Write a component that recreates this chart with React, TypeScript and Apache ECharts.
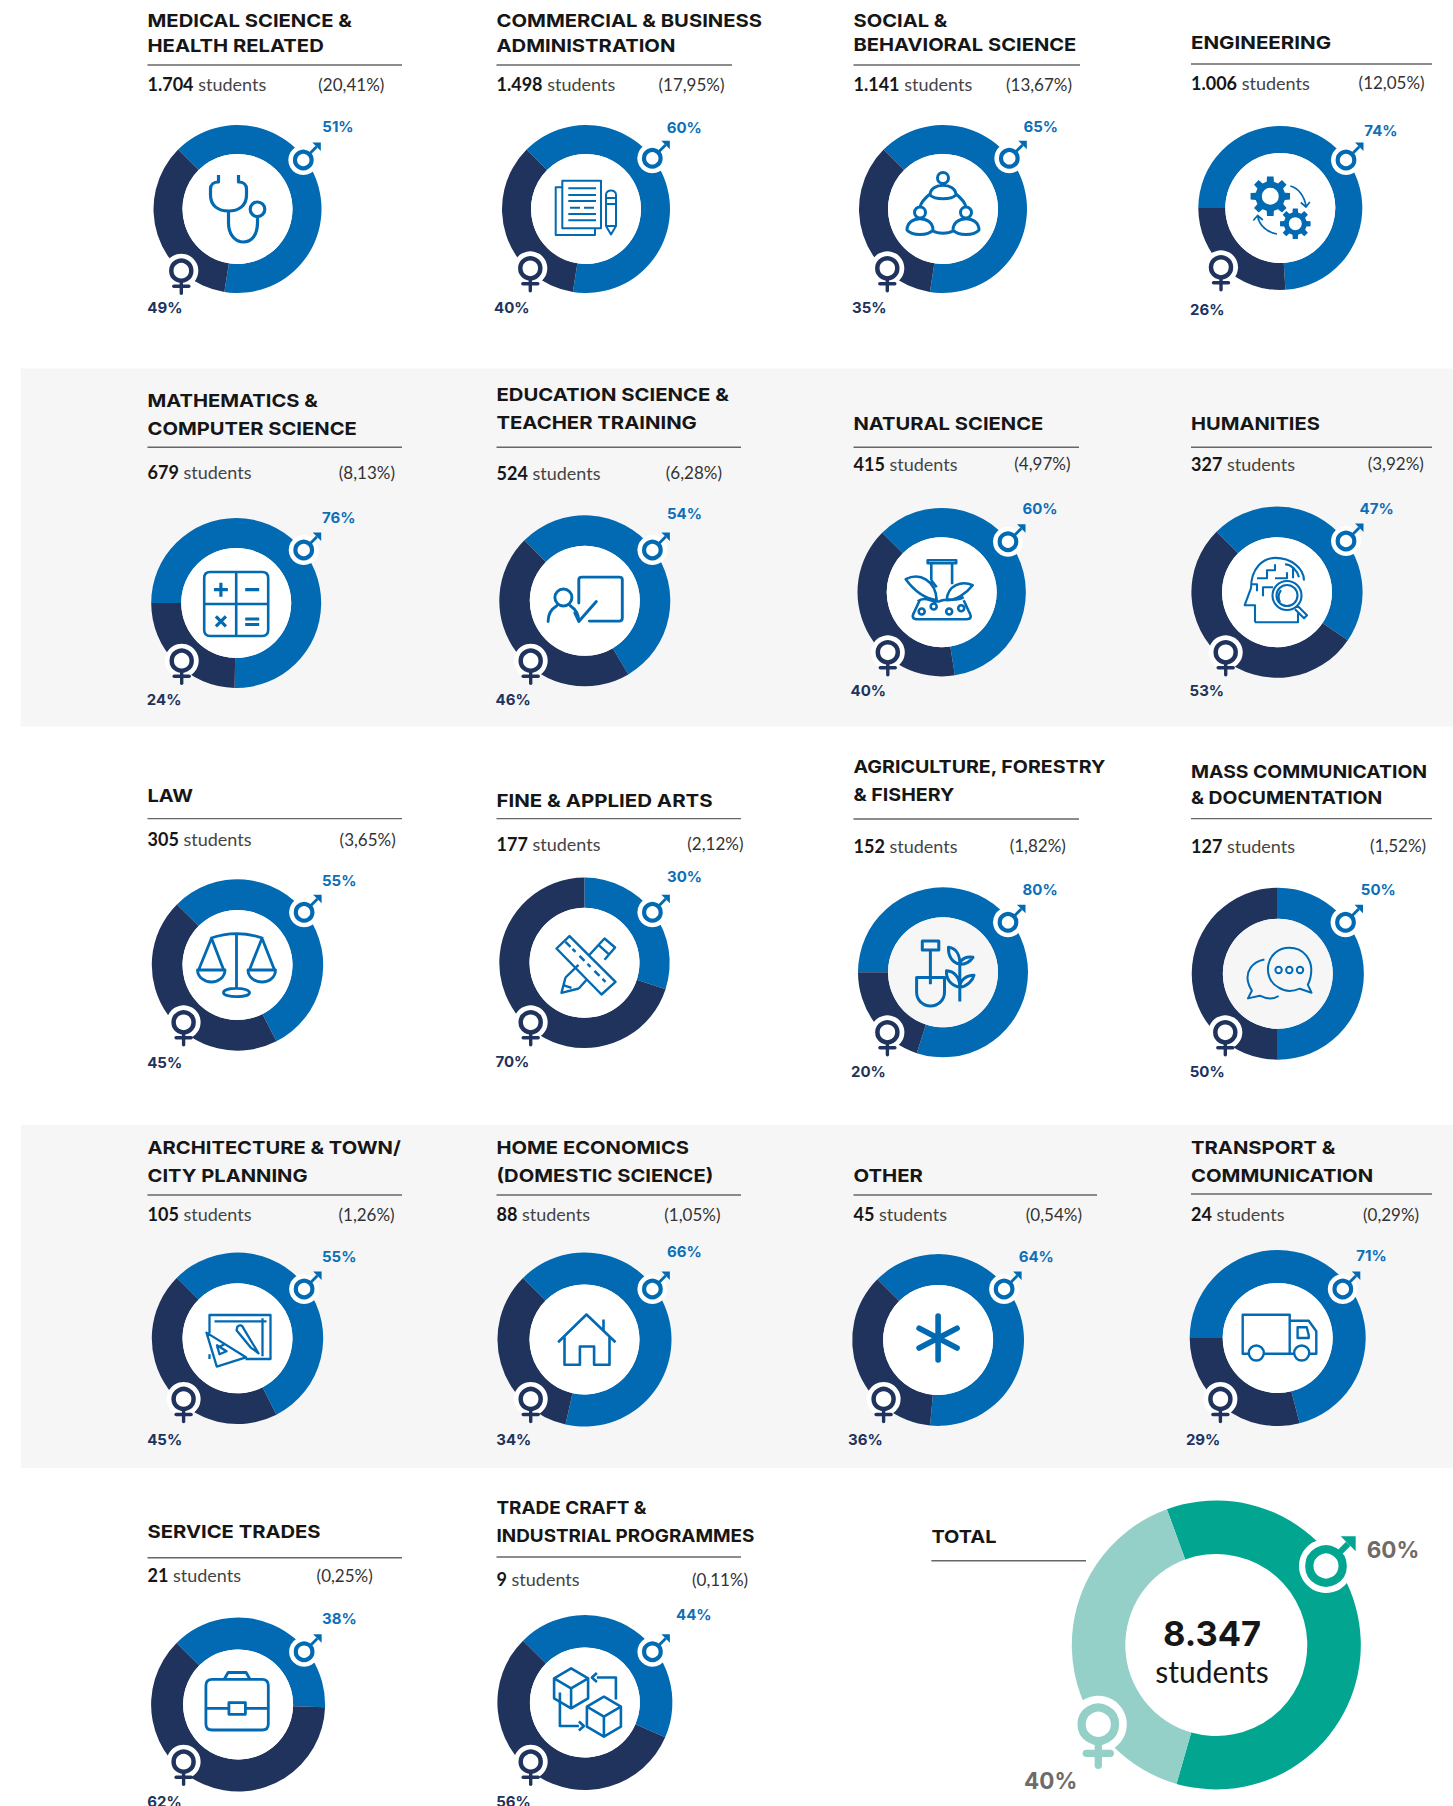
import React, { useEffect, useRef } from "react";
import * as echarts from "echarts";

const fieldTitles: string[][] = [
  ["MEDICAL SCIENCE &", "HEALTH RELATED"],
  ["COMMERCIAL & BUSINESS", "ADMINISTRATION"],
  ["SOCIAL &", "BEHAVIORAL SCIENCE"],
  ["ENGINEERING"],
  ["MATHEMATICS &", "COMPUTER SCIENCE"],
  ["EDUCATION SCIENCE &", "TEACHER TRAINING"],
  ["NATURAL SCIENCE"],
  ["HUMANITIES"],
  ["LAW"],
  ["FINE & APPLIED ARTS"],
  ["AGRICULTURE, FORESTRY", "& FISHERY"],
  ["MASS COMMUNICATION", "& DOCUMENTATION"],
  ["ARCHITECTURE & TOWN/", "CITY PLANNING"],
  ["HOME ECONOMICS", "(DOMESTIC SCIENCE)"],
  ["OTHER"],
  ["TRANSPORT &", "COMMUNICATION"],
  ["SERVICE TRADES"],
  ["TRADE CRAFT &", "INDUSTRIAL PROGRAMMES"],
];
const studentCounts = ["1.704","1.498","1.141","1.006","679","524","415","327","305","177","152","127","105","88","45","24","21","9"];
const shareLabels = ["(20,41%)","(17,95%)","(13,67%)","(12,05%)","(8,13%)","(6,28%)","(4,97%)","(3,92%)","(3,65%)","(2,12%)","(1,82%)","(1,52%)","(1,26%)","(1,05%)","(0,54%)","(0,29%)","(0,25%)","(0,11%)"];
const maleLabels = [51,60,65,74,76,54,60,47,55,30,80,50,55,66,64,71,38,44];
const femaleLabels = [49,40,35,26,24,46,40,53,45,70,20,50,45,34,36,29,62,56];
// Ring arcs as drawn in the picture (share of the ring, %), and where each ring begins (compass degrees).
const ringMale = [65,65,65,74,75.3,54,60,47,55,30,80,50,55,66,64,71,38,44];
const ringFemale = [35,35,35,26,24.7,46,40,53,45,70,20,50,45,34,36,29,62,56];
const ringStart = [315,315,315,270,270,315,315,315,315,0,270,0,315,315,315,270,315,315];
const totalStudents = "8.347";
const totalRing = [60, 40];
const totalStart = 340;

// layout: [cx, cy, R, maleX, maleY, femaleX, femaleY, maleLabelX, maleLabelY, femaleLabelX, femaleLabelY]
const ringLayout: number[][] = [
  [237.5,209,84,303.3,160,181.3,270.7,322.3,126.2,147.3,307.5],
  [586,209,84,652.3,158.3,530.3,268.3,666.7,127.8,494,307.5],
  [943,209,84,1009.3,158.3,887.3,268.3,1023.5,126.1,852,307.5],
  [1280.3,208,82,1346,160,1221,267.3,1364.3,130.2,1190,309],
  [236.2,603,85,303.7,550,181.7,660.7,322,517.8,146.8,699.7],
  [584.8,600.8,85.5,652.4,550,530.7,660.7,667,513.8,495.5,699.7],
  [941.7,592.2,84.2,1008,541.7,887.8,652.3,1022.5,508.5,850.5,690.5],
  [1277,592.2,85.6,1346,541,1225.7,652.3,1359.6,508.5,1189.6,690.5],
  [237.5,965,85.7,304.1,912.3,183.6,1022.3,322,880.2,147.2,1062],
  [584.5,962.8,85.2,652.4,912.3,530.7,1022.3,667,876.2,495.5,1061.5],
  [943,972.3,85,1008,922.3,887.4,1032.3,1022.5,889.5,851,1071.5],
  [1277.8,973.7,86,1345.5,922.3,1225.3,1032.3,1360.8,889.5,1189.7,1071.5],
  [237.5,1338.3,85.7,304.1,1289,183.6,1399,322,1256.8,147.2,1439.2],
  [584.5,1339.5,87,652.4,1289,530.7,1399,667,1251.8,496.2,1439.2],
  [938.1,1340,85.9,1004.1,1289,883.6,1399,1018.7,1256.2,848,1439.2],
  [1277.7,1338,88,1342.8,1289,1220.4,1399,1356.2,1255.5,1185.9,1439.2],
  [238.1,1704.5,87,304.1,1651.7,183.6,1761.7,322,1618.8,147.2,1801],
  [584.9,1702.5,87.5,652.4,1651.7,530.7,1761.7,676,1614,496.2,1801],
];
// header layout: [x, ruleEnd, ruleY, rowY, shareX, title line ys...]
const headLayout: number[][] = [
  [147.5,402,65,84,318.3,20.7,45],
  [496.5,732,65,84,658.5,20.7,45],
  [853.5,1080,65,84,1006,20.7,45],
  [1191,1432,64,82.5,1358.6,42.6],
  [147.5,402,447.3,472,338.8,400,428.3],
  [496.5,741,447.3,472.5,665.8,394,422.3],
  [853.5,1079,447.3,463.5,1014.3,423.7],
  [1191,1432,447.3,463.5,1367.7,423.7],
  [147.5,402,818.6,839,339.6,795.5],
  [496.5,741,818.6,843.5,687.3,800],
  [853.5,1079,819,845.5,1009.7,766.8,794.4],
  [1191,1432,818.6,845.5,1370,771.4,797.8],
  [147.5,402,1195,1214.3,338.5,1147.8,1175.5],
  [496.5,741,1195,1214.3,664.3,1147.8,1175.5],
  [853.5,1097,1195,1214.3,1025.8,1175.5],
  [1191,1432,1194,1214.3,1363,1147.8,1175.5],
  [147.5,402,1557.7,1575,316.6,1531],
  [496.5,741,1557,1579.3,692,1507,1534.7],
];
// Horizontal stretch that makes each title as wide as in the reference.
const titleFit = [1.125,1.125,1.118,1.14,1.12,1.128,1.12,1.117,1.11,1.137,1.09,1.075,1.12,1.12,1.13,1.125,1.124,1.05];

const FONT = "Lato, 'Open Sans', sans-serif";
const HEAD = "Inter, Lato, sans-serif";
const MALE = "#026ab2";
const FEMALE = "#20335c";
const INK = "#161616";
const BAND = "#f6f6f6";

const circ = (x: number, y: number, r: number, ccw = false) =>
  `M${x - r} ${y} A${r} ${r} 0 1 ${ccw ? 0 : 1} ${x + r} ${y} A${r} ${r} 0 1 ${ccw ? 0 : 1} ${x - r} ${y} Z `;

function gear(cx: number, cy: number, R: number, rootR: number, hole: number, n: number) {
  let d = "";
  for (let i = 0; i < n; i++) {
    const a = (i / n) * Math.PI * 2;
    const w = Math.PI / n;
    const pts = [
      [rootR, a - w * 0.62], [R, a - w * 0.42], [R, a + w * 0.42], [rootR, a + w * 0.62],
    ];
    pts.forEach((p, k) => {
      const x = cx + p[0] * Math.cos(p[1]);
      const y = cy + p[0] * Math.sin(p[1]);
      d += `${i === 0 && k === 0 ? "M" : "L"}${x.toFixed(2)} ${y.toFixed(2)} `;
    });
  }
  return d + "Z " + circ(cx, cy, hole, true);
}
const cube = (x: number, y: number) =>
  `M${x} ${y - 20} L${x + 17} ${y - 10} V${y + 10} L${x} ${y + 20} L${x - 17} ${y + 10} V${y - 10} Z M${x - 17} ${y - 10} L${x} ${y} L${x + 17} ${y - 10} M${x} ${y} V${y + 20} `;

type IconPart = { d: string; lw?: number; fill?: boolean; round?: boolean };
const iconParts: IconPart[][] = [
  // stethoscope
  [{ d: "M-19 -34 V-27 C-24 -27 -27 -24 -27 -20 V-14 C-27 -3 -19 2 -9 2 C1 2 9 -3 9 -14 V-20 C9 -24 6 -27 1 -27 V-34 M-9 2 V14 C-9 26 -2 33 6 33 C14 33 20 26 20 14 V8 " + circ(20, 0.3, 7.3), lw: 3.2 }],
  // documents & pencil
  [{ d: "M-23.7 -28.3 H15 V19.3 H-23.7 Z M-23.7 -21.7 H-30.3 V26 H9 V19.3 M-17.7 -20.7 H10 M-17.7 -14 H10 M-17.7 -8 H10 M-16 -1.3 H-6 M-2 -1.3 H8 M-17.7 5 H10 M-17.7 11.3 H10 M20 -14 V17 L25 25.5 L30 17 V-14 C30 -20 20 -20 20 -14 Z M20 -11 H30 M20 -5 H30 M20 17 H30", lw: 2 }],
  // people triad
  [{ d: circ(0, -31, 5.5) + circ(-23, 3.5, 5.5) + circ(23, 3.5, 5.5) + "M-13 -14 C-13 -27 13 -27 13 -14 C8 -9 -8 -9 -13 -14 Z M-36 21 C-36 6 -10 6 -10 21 C-15 27 -31 27 -36 21 Z M10 21 C10 6 36 6 36 21 C31 27 15 27 10 21 Z M-13 -15 C-18 -11 -22 -6 -23 -2 M13 -15 C18 -11 22 -6 23 -2 M-10 22 C-5 25 5 25 10 22", lw: 3 }],
  // gears
  [
    { d: gear(-10, -11.7, 20, 15, 8.5, 8), fill: true },
    { d: gear(15, 15.7, 15.5, 11.5, 6.5, 8), fill: true },
    { d: "M10 -22 C18 -20 24 -12 25.7 -2 M20.5 -5.5 L25.7 -1 L29.5 -6 M-3.3 26 C-13 24 -21 18 -22.7 8 M-27 12.5 L-22.7 7.5 L-17.5 12", lw: 1.7 },
  ],
  // calculator
  [{ d: "M-26 -31 H26 Q32 -31 32 -25 V27 Q32 33 26 33 H-26 Q-32 33 -32 27 V-25 Q-32 -31 -26 -31 Z M0 -31 V33 M-32 1 H32", lw: 2.6 },
   { d: "M-22.3 -13.3 H-8.3 M-15.3 -20.3 V-6.3 M9 -13.3 H23 M-20.3 13.3 L-10.3 23.3 M-10.3 13.3 L-20.3 23.3 M9 16 H23 M9 21.5 H23", lw: 3.2 }],
  // board & person
  [{ d: "M-6 2.3 V-21 Q-6 -23.7 -3 -23.7 H34.5 Q37.5 -23.7 37.5 -21 V17.3 Q37.5 20.3 34.5 20.3 H4.6 M-6 20.7 L11.5 0.7 M-10 12 L-6 20.7 " + circ(-21.4, -3.3, 8.5) + "M-36.7 20.7 C-36.7 12 -33 8 -28 5 M-14.5 5 C-10 8 -6 12 -6 20.7", lw: 2.9, round: true }],
  // flask with leaves
  [{ d: "M-14 -32 H14.5 V-29 H-14 Z M-10.4 -29 V-12 M10.4 -29 V-8 M-10.4 -12 L-5 -5 M-22 8 L-28 21 Q-31 27 -24 27 H25 Q31 27 28 21 L22 8 M-5 8 C-18 6 -28 -2 -36 -13 C-22 -20 -6 -12 -5 8 Z M5 8 C14 8 24 2 31 -7 C20 -12 6 -7 5 8 Z M-24 9 C-16 3 -10 11 -2 9 C6 5 14 10 22 5 " + circ(-20, 19.3, 3) + circ(-8, 14.3, 3) + circ(7.5, 19.3, 3) + circ(19.5, 16, 3), lw: 2.6 }],
  // head & magnifier
  [{ d: "M-22 30 V13 H-32.3 L-26 -4 C-26 -24 -14 -34.3 -1.7 -34.3 C14 -34.3 27 -24 27 -11.7 M-22 30 H21 V21 M-20 -1 V-8 H-26 M-20 -14 H-10 V-22 H-2 V-28 M-14 4 V-5 H-4 M-2 -14 H10 V-20 M16 -24 V-14 M8 -28 C14 -28 20 -22 22 -15 " + circ(10, 3.3, 14.5) + circ(10, 3.3, 10.5) + "M20.5 13.5 L30 23 L27 26 L18 17 M4 -2 C1 2 1 6 3 10", lw: 2.1 }],
  // scales
  [{ d: "M-27 -26.7 Q-1 -36 25.6 -26.7 M-1 -32 V23 M-26 -26.7 L-38.9 5 M-26 -26.7 L-13.8 5 M24.5 -26.7 L11.9 5 M24.5 -26.7 L37 5 M-40 5 H-12.5 C-12.5 12 -19 17 -26 17 C-33 17 -40 12 -40 5 Z M10.5 5 H38 C38 12 32 17 24.5 17 C17 17 10.5 12 10.5 5 Z M-14 27.7 C-14 22 12 22 12 27.7 C12 33 -14 33 -14 27.7 Z", lw: 2.8 }],
  // ruler & pencil
  [{ d: "M-28 -14.3 L-15 -26.7 L31 19 L17 31.7 Z M-19 -21 L-14 -16 M-12 -14 L-9 -11 M-5 -7 L0 -2 M3 1 L6 4 M10 8 L15 13 M18 16 L21 19 M-19 14.7 L-6 2 M-5.7 25.7 L3 16 M-19 14.7 L-23 30 L-5.7 25.7 M5 -8 L20 -24.3 L30.6 -15.3 L20 -3 M14 -18 L25 -8 M-22 22 L-13 25", lw: 2.4 }],
  // shovel & plant
  [{ d: "M-20.7 -31.3 H-4.2 V-22.3 H-20.7 Z M-12.6 -22 V12 M-26.4 5.3 H1.5 V20 C1.5 28 -5 33.7 -12.5 33.7 C-20 33.7 -26.4 28 -26.4 20 Z M16.8 29.3 V-7 M16.8 -8 C8 -10 5 -18 5.5 -25 C14 -24 17 -16 16.8 -8 Z M16.8 -8 C24 -8 28 -12 30 -15 C24 -16 18 -14 16.8 -8 Z M16.8 15 C7 13 3 6 3.5 -1.5 C12 -1 17 6 16.8 15 Z M16.8 15 C24 14 30 8 31 3 C23 3 17 8 16.8 15 Z", lw: 3 }],
  // chat
  [{ d: "M1 14 C-17 5 -12 -26 11.5 -26 C27 -26 33.5 -13 33.5 -4 C33.5 4 31 9 30 11 L33.7 19 L22 15 C15 18 7 18 1 14 Z " + circ(0.8, -3.7, 3.2) + circ(11.5, -3.7, 3.2) + circ(22.2, -3.7, 3.2) + "M-13.4 -14.3 C-26 -12 -32 -2 -29.8 8 C-29 12 -27 15 -26 17 L-29.8 24.7 L-18 22 C-11 25.5 -4 25.5 0.8 22.3", lw: 2 }],
  // drawing board
  [{ d: "M-28 -5 V-23.3 H33 V20.7 H8 M-23 -17 H29 M25 -20 V18 M-28 16 V20.7 M-31 -5.7 L8.4 19 L-20.7 28.3 Z M-21 10 L-13 6 M-20.5 7 L-11 13 L-18 16 Z M0 -11.7 C2 -14 5 -13 6 -10 L21 15 L13 9 L-1 -8 Z", lw: 2.3 }],
  // house
  [{ d: "M-26.4 2.7 L2 -25 L31 2.7 M19 -20 V-9 M-20 -3 V25.3 H-4.6 V7 H9.6 V25.3 H25 V-3", lw: 2.6 }],
  // asterisk
  [{ d: "M0 -24 V20 M-19 -11.7 L19 8 M-19 8 L19 -11.7", lw: 5.6, round: true }],
  // truck
  [{ d: "M-29 15.7 H-35 V-23.3 H12 V15.7 H16 M12 -17.3 H31 L38.6 -6.7 V15.7 H32 M-13 15.7 H12 M19.9 -10.7 H29 L31 -3 V0 H19.9 Z " + circ(-21.4, 15, 7.5) + circ(24, 15, 7.5), lw: 2.4 }],
  // briefcase
  [{ d: "M-26 -25.2 H24 Q30.2 -25.2 30.2 -19 V19.5 Q30.2 25.5 24 25.5 H-26 Q-32.2 25.5 -32.2 19.5 V-19 Q-32.2 -25.2 -26 -25.2 Z M-14 -25 L-10 -32 H8 L12 -25 M-32 3.8 H-9.2 M7.3 3.8 H30 M-9.2 -1.8 H7.3 V9.8 H-9.2 Z", lw: 2.8 }],
  // boxes
  [{ d: cube(-13.8, -14.2) + cube(19, 14.2), lw: 2.6 },
   { d: "M31 -3 V-25 H12 M12 -29.5 L7 -25 L12 -20.5 M-25 -10 V23.5 H-6 M-6 19 L-1 23.5 L-6 28", lw: 2.6 }],
];

function maleGlyph(x: number, y: number, c: string, o: any) {
  const h = o.head;
  return [
    { type: "circle", z: 8, shape: { cx: x, cy: y, r: o.halo }, style: { fill: "#fff" } },
    { type: "circle", z: 9, shape: { cx: x, cy: y, r: o.r }, style: { fill: "none", stroke: c, lineWidth: o.lw } },
    { type: "line", z: 9, shape: { x1: x + o.r * 0.7, y1: y - o.r * 0.7, x2: x + o.tip - h * 0.5, y2: y - o.tip + h * 0.5 }, style: { stroke: c, lineWidth: o.shaft } },
    { type: "polygon", z: 9, shape: { points: [[x + o.tip, y - o.tip], [x + o.tip - h, y - o.tip], [x + o.tip, y - o.tip + h]] }, style: { fill: c } },
  ];
}
function femaleGlyph(x: number, y: number, c: string, o: any) {
  return [
    { type: "circle", z: 8, shape: { cx: x, cy: y, r: o.halo }, style: { fill: "#fff" } },
    { type: "circle", z: 9, shape: { cx: x, cy: y, r: o.r }, style: { fill: "none", stroke: c, lineWidth: o.lw } },
    { type: "line", z: 9, shape: { x1: x, y1: y + o.r, x2: x, y2: y + o.stem }, style: { stroke: c, lineWidth: o.sw, lineCap: "round" } },
    { type: "line", z: 9, shape: { x1: x - o.bar, y1: y + o.barY, x2: x + o.bar, y2: y + o.barY }, style: { stroke: c, lineWidth: o.sw, lineCap: "round" } },
  ];
}
const smallMale = { r: 8.3, lw: 4.2, tip: 17.5, head: 8.5, shaft: 2.8, halo: 15 };
const smallFemale = { r: 10, lw: 4.5, stem: 22.5, bar: 7.5, barY: 15.5, sw: 3.4, halo: 17 };

const TITLE = { fontFamily: HEAD, fontWeight: 700, fontSize: 18 };
const PCT = { fontFamily: HEAD, fontWeight: 700, fontSize: 15 };
const text = (x: number, y: number, t: string, style: any, extra: any = {}) => ({
  type: "text", z: 10, x, y,
  style: { text: t, align: "left", verticalAlign: "middle", ...style },
  ...extra,
});

function buildOption() {
  iconParts.forEach((parts, i) =>
    parts.forEach((p, k) =>
      echarts.graphic.registerShape(`icon${i}_${k}`, echarts.graphic.extendPath(p.d, {}))
    )
  );
  const series: any[] = [];
  const elements: any[] = [
    { type: "rect", z: 0, shape: { x: 20.7, y: 368.4, width: 1433, height: 358 }, style: { fill: BAND } },
    { type: "rect", z: 0, shape: { x: 20.7, y: 1124.8, width: 1433, height: 343.2 }, style: { fill: BAND } },
  ];
  fieldTitles.forEach((lines, i) => {
    const [cx, cy, R, mx, my, fx, fy, mlx, mly, flx, fly] = ringLayout[i];
    const [hx, ruleEnd, ruleY, rowY, shareX, ...lineYs] = headLayout[i];
    series.push({
      type: "pie", silent: true, center: [cx, cy], radius: [55, R],
      startAngle: 90 - ringStart[i], clockwise: true, label: { show: false }, labelLine: { show: false },
      emphasis: { disabled: true }, z: 2,
      data: [
        { name: "Male", value: ringMale[i], itemStyle: { color: MALE } },
        { name: "Female", value: ringFemale[i], itemStyle: { color: FEMALE } },
      ],
    });
    const gray = i === 10 || i === 11;
    elements.push({ type: "circle", z: 3, shape: { cx, cy, r: 55 }, style: { fill: gray ? BAND : "#fff" } });
    iconParts[i].forEach((p, k) =>
      elements.push({
        type: `icon${i}_${k}`, z: 5, x: cx, y: cy,
        style: p.fill
          ? { fill: MALE, stroke: "none" }
          : { fill: "none", stroke: MALE, lineWidth: p.lw, lineCap: p.round ? "round" : "butt", lineJoin: "round" },
      })
    );
    elements.push(...maleGlyph(mx, my, MALE, smallMale), ...femaleGlyph(fx, fy, FEMALE, smallFemale));
    lines.forEach((l, k) => elements.push(text(hx, lineYs[k], l, { ...TITLE, fill: INK }, { scaleX: titleFit[i] })));
    elements.push({ type: "line", z: 10, shape: { x1: hx, y1: ruleY, x2: ruleEnd, y2: ruleY }, style: { stroke: "#666", lineWidth: 1.4 } });
    elements.push(text(hx, rowY, `{b|${studentCounts[i]}} {r|students}`, {
      fontFamily: FONT, fontSize: 18, fill: "#444",
      rich: {
        b: { fontFamily: FONT, fontWeight: 700, fontSize: 18, fill: INK },
        r: { fontFamily: FONT, fontWeight: 400, fontSize: 18, fill: "#444" },
      },
    }));
    elements.push(text(shareX, rowY, shareLabels[i], { fontFamily: FONT, fontSize: 17, fill: "#333" }));
    elements.push(text(mlx, mly, `${maleLabels[i]}%`, { ...PCT, fill: "#0d6fb8" }));
    elements.push(text(flx, fly, `${femaleLabels[i]}%`, { ...PCT, fill: FEMALE }));
  });

  // Total ring
  const TC = [1216.3, 1645];
  series.push({
    type: "pie", silent: true, center: TC, radius: [91, 144.5],
    startAngle: 90 - totalStart, clockwise: true, label: { show: false }, labelLine: { show: false },
    emphasis: { disabled: true }, z: 2,
    data: [
      { name: "Male", value: totalRing[0], itemStyle: { color: "#02a690" } },
      { name: "Female", value: totalRing[1], itemStyle: { color: "#95d0c8" } },
    ],
  });
  elements.push(
    ...maleGlyph(1326, 1566, "#02a690", { r: 16.7, lw: 8.3, tip: 29.7, head: 15, shaft: 6, halo: 27 }),
    ...femaleGlyph(1098.3, 1724.3, "#95d0c8", { r: 16.7, lw: 8.3, stem: 41, bar: 12, barY: 29, sw: 7.3, halo: 28.5 }),
    text(931.4, 1537, "TOTAL", { ...TITLE, fill: INK }, { scaleX: 1.108 }),
    { type: "line", z: 10, shape: { x1: 931.4, y1: 1560.7, x2: 1086, y2: 1560.7 }, style: { stroke: "#666", lineWidth: 1.4 } },
    text(1212, 1633, totalStudents, { fontFamily: HEAD, fontWeight: 700, fontSize: 34.5, fill: INK, align: "center" }),
    text(1212, 1670.5, "students", { fontFamily: FONT, fontSize: 30, fill: INK, align: "center" }),
    text(1366.7, 1549.5, `${totalRing[0]}%`, { fontFamily: HEAD, fontWeight: 700, fontSize: 22.5, fill: "#6f6b68" }),
    text(1024, 1780, `${totalRing[1]}%`, { fontFamily: HEAD, fontWeight: 700, fontSize: 22.5, fill: "#6f6b68" }),
  );
  return { animation: false, backgroundColor: "transparent", graphic: { elements }, series };
}

export default function App() {
  const ref = useRef<HTMLDivElement>(null);
  useEffect(() => {
    document.body.style.margin = "0";
    const chart = echarts.init(ref.current!, null, { renderer: "svg" });
    chart.setOption(buildOption() as any);
    return () => chart.dispose();
  }, []);
  return <div ref={ref} style={{ width: 1453, height: 1806, display: "block", background: "#fff" }} />;
}
